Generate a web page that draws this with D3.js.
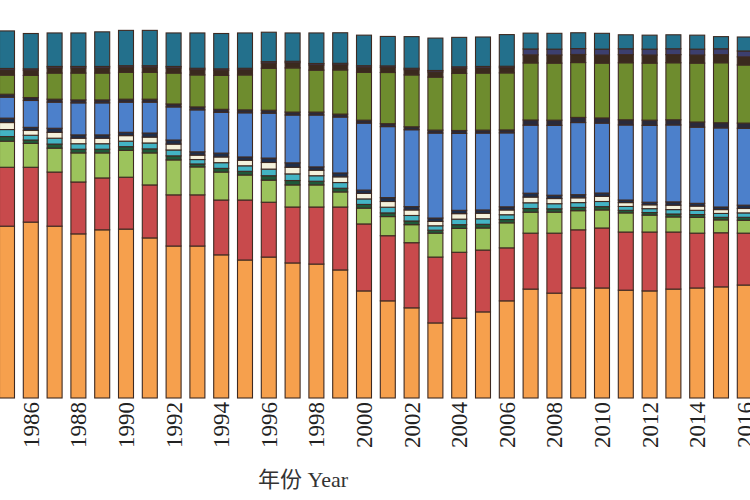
<!DOCTYPE html>
<html><head><meta charset="utf-8">
<script src="https://cdn.jsdelivr.net/npm/d3@7"></script>
<style>body{margin:0;background:#fff;}svg{display:block;}</style>
</head><body>
<svg id="chart" width="750" height="500"></svg>
<script>
const years = [1985,1986,1987,1988,1989,1990,1991,1992,1993,1994,1995,1996,1997,1998,1999,2000,
  2001,2002,2003,2004,2005,2006,2007,2008,2009,2010,2011,2012,2013,2014,2015,2016];
const tickYears = [1986,1988,1990,1992,1994,1996,1998,2000,2002,2004,2006,2008,2010,2012,2014,2016];

// series, bottom to top (share of total, %)
const s1 = [46.7,47.8,46.7,44.6,45.7,45.9,43.5,41.3,41.3,38.9,37.5,38.3,36.7,36.4,34.8,29.1,
  26.4,24.5,20.4,21.7,23.4,26.4,29.6,28.5,29.9,29.9,29.3,29.1,29.6,29.9,30.2,30.7];
const s2 = [16.0,14.9,14.7,14.1,14.1,14.1,14.4,13.9,13.9,14.9,16.3,14.9,15.2,15.5,17.1,18.2,
  17.7,17.7,17.9,17.9,16.8,14.4,15.2,16.3,15.8,16.3,15.8,16.0,15.5,14.9,14.7,14.1];
const s3 = [7.1,6.5,6.5,7.9,6.8,7.3,8.7,9.5,7.6,7.6,6.8,6.0,6.0,6.0,4.1,4.3,
  5.2,4.9,6.5,6.5,6.0,6.8,5.7,5.7,5.2,4.9,5.2,4.6,4.1,4.3,3.5,3.5];
const s4 = [1.25,0.9,1.1,1.0,1.0,1.0,1.1,1.1,0.8,1.0,1.0,1.2,1.2,1.0,1.0,1.0,
  1.0,1.0,0.8,1.0,1.0,0.9,1.0,0.9,0.9,0.9,0.7,0.7,0.8,0.75,0.7,0.8];
const s5 = [1.9,1.3,1.6,1.5,1.5,1.5,1.6,1.6,1.2,1.55,1.5,1.8,1.8,1.5,1.55,1.5,
  1.55,1.5,1.2,1.5,1.5,1.3,1.55,1.4,1.3,1.4,1.05,1.05,1.2,1.15,1.05,1.2];
const s6 = [1.9,1.3,1.6,1.5,1.5,1.5,1.6,1.6,1.2,1.55,1.5,1.8,1.8,1.5,1.55,1.5,
  1.55,1.5,1.2,1.5,1.5,1.3,1.55,1.4,1.3,1.4,1.05,1.05,1.2,1.15,1.05,1.2];
const s7 = [1.2,0.85,1.1,0.9,0.9,0.9,1.1,1.1,0.9,1.05,0.9,1.2,1.2,0.9,1.05,0.9,
  1.05,0.9,0.9,0.9,0.9,0.85,1.05,0.9,0.85,0.9,0.7,0.7,0.9,0.75,0.7,0.9];
const s8 = [5.7,7.3,7.1,8.7,8.7,8.2,8.4,9.0,11.4,11.1,12.0,12.2,13.0,14.1,15.2,18.2,
  19.3,20.9,23.1,20.9,20.9,20.1,18.5,19.0,19.6,19.0,20.4,20.9,20.9,20.7,21.5,20.9];
const s9 = [0.8,0.8,0.8,0.8,0.8,0.8,0.8,0.8,0.8,0.8,0.8,0.8,0.8,0.8,0.8,0.8,
  0.8,0.8,0.8,0.8,0.8,0.8,1.4,1.4,1.4,1.4,1.4,1.4,1.4,1.4,1.4,1.4];
const s10 = [5.2,6.0,7.1,7.3,7.3,7.3,7.3,8.4,8.7,9.2,9.5,11.4,12.0,11.4,12.0,13.0,
  13.9,14.1,14.4,15.5,15.5,15.5,15.5,15.5,14.9,14.9,15.5,15.5,15.5,16.0,16.3,15.8];
const s11 = [1.4,1.4,1.4,1.4,1.4,1.4,1.4,1.4,1.4,1.4,1.4,1.4,1.4,1.4,1.4,1.4,
  1.4,1.4,1.4,1.4,1.4,1.4,2.2,2.2,2.2,2.2,2.2,2.2,2.2,2.2,2.2,2.2];
const s12 = [0.4,0.4,0.4,0.4,0.4,0.4,0.4,0.4,0.4,0.4,0.4,0.4,0.4,0.4,0.4,0.4,
  0.4,0.4,0.4,0.4,0.4,0.4,1.6,1.6,1.6,1.6,1.6,1.6,1.6,1.6,1.6,1.6];
const s13 = [10.2,9.6,9.1,9.1,9.4,9.6,9.6,9.1,9.6,9.6,9.6,8.0,7.7,8.3,8.3,8.3,
  8.0,8.6,8.8,8.0,8.0,8.6,4.3,4.3,4.3,4.3,3.8,3.8,3.8,3.8,3.3,3.8];

const seriesNames = ["s1","s2","s3","s4","s5","s6","s7","s8","s9","s10","s11","s12","s13"];
const seriesValues = [s1,s2,s3,s4,s5,s6,s7,s8,s9,s10,s11,s12,s13];
const colors = ["#F6A04D","#C84A4C","#9CC35C","#1F5A3A","#43B4C4","#F4F1DC","#1E2E4A",
  "#4C80CB","#2A2A3A","#6E8C2E","#3A2A1E","#3C3F6E","#23708C"];
const xTitle = "年份 Year";

const table = years.map((y,i)=>{
  const row = {year:y};
  seriesNames.forEach((n,k)=>row[n]=seriesValues[k][i]);
  return row;
});

const svg = d3.select("#chart");
const baseY = 398;
const x = d3.scaleBand().domain(years).range([-4.9, 756.7]).paddingInner(0.37).paddingOuter(0.185);
const y = d3.scaleLinear().domain([0,100]).range([baseY, 30]);

const stacked = d3.stack().keys(seriesNames)(table);

svg.append("g").selectAll("g").data(stacked).join("g")
  .attr("fill",(d,i)=>colors[i])
  .selectAll("rect").data(d=>d).join("rect")
  .attr("x",d=>x(d.data.year))
  .attr("width",x.bandwidth())
  .attr("y",d=>y(d[1]))
  .attr("height",d=>y(d[0])-y(d[1]))
  .attr("stroke","#3e2a22")
  .attr("stroke-width",1.1);

const axis = d3.axisBottom(x).tickValues(tickYears).tickSize(0).tickPadding(0);
const ax = svg.append("g").attr("transform",`translate(0,${baseY})`).call(axis);
ax.select(".domain").remove();
ax.selectAll("text")
  .attr("transform","rotate(-90)")
  .attr("x",-4).attr("y",0).attr("dy","0.35em")
  .style("text-anchor","end")
  .style("font-family","'Liberation Serif','Times New Roman',serif")
  .style("font-size","23px")
  .attr("fill","#222");

svg.append("text")
  .attr("x",303).attr("y",487)
  .attr("text-anchor","middle")
  .style("font-family","'Liberation Serif','Noto Sans CJK SC',serif")
  .style("font-size","22px")
  .attr("fill","#333")
  .text(xTitle);
</script>
</body></html>
